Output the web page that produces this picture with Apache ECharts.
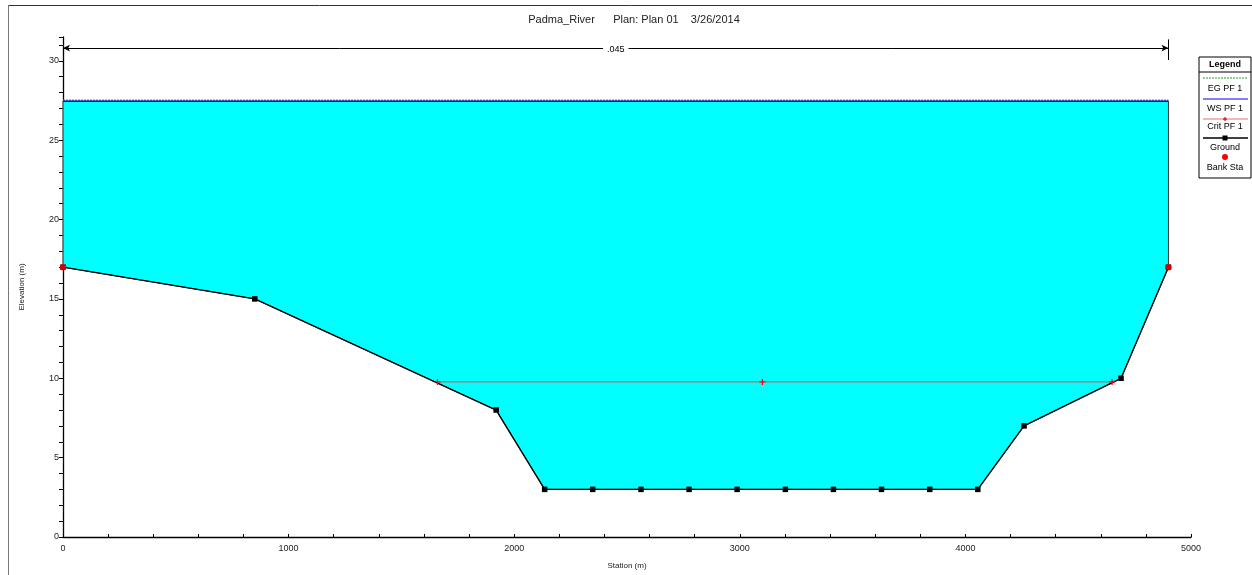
<!DOCTYPE html>
<html><head><meta charset="utf-8">
<script src="https://cdn.jsdelivr.net/npm/echarts@6/dist/echarts.min.js"></script>
<style>html,body{margin:0;padding:0;background:#fff}#c{width:1252px;height:575px}</style>
</head><body><div id="c"></div>
<script>
const groundSta = [0, 850, 1920, 2135, 2348, 2562, 2775, 2988, 3202, 3415, 3628, 3842, 4055, 4260, 4690, 4900];
const groundElev = [17, 15, 8, 3, 3, 3, 3, 3, 3, 3, 3, 3, 3, 7, 10, 17];
const bankSta = [0, 4900];
const bankElev = [17, 17];
const wsElev = 27.45;
const egElev = 27.52;
const critSta = [1660, 3100, 4650];
const critElev = [9.77, 9.77, 9.77];
const manningN = '.045';
const manningSta = [0, 4900];
const manningElev = 30.8;
const xTicks = [0, 1000, 2000, 3000, 4000, 5000];
const yTicks = [0, 5, 10, 15, 20, 25, 30];

const FONT = 'Liberation Sans, Arial, sans-serif';
const chart = echarts.init(document.getElementById('c'), null, {renderer: 'canvas'});

const groundPts = groundSta.map((s, i) => [s, groundElev[i]]);
const waterPoly = [[groundSta[0], wsElev]].concat(groundPts, [[groundSta[groundSta.length - 1], wsElev]]);
const wsLine = [[groundSta[0], wsElev], [groundSta[groundSta.length - 1], wsElev]];
const egLine = [[groundSta[0], egElev], [groundSta[groundSta.length - 1], egElev]];
const plusPath = 'path://M0,4L10,4L10,6L0,6Z M4,0L6,0L6,10L4,10Z';

// legend graphic
const LX = 1199, LY = 57, LW = 52, LH = 121;
const lx1 = LX + 4, lx2 = LX + LW - 3, lcx = LX + LW / 2;
const legendEls = [
  {type: 'rect', shape: {x: LX, y: LY, width: LW, height: LH}, style: {fill: '#fff', stroke: '#000', lineWidth: 1}},
  {type: 'text', x: lcx, y: 65, style: {text: 'Legend', font: 'bold 9px ' + FONT, fill: '#000', align: 'center', verticalAlign: 'middle'}},
  {type: 'line', shape: {x1: LX, y1: 72, x2: LX + LW, y2: 72}, style: {stroke: '#000', lineWidth: 1}},
  {type: 'line', shape: {x1: lx1, y1: 78, x2: lx2, y2: 78}, style: {stroke: '#2a9a2a', lineWidth: 1, lineDash: [2, 1]}},
  {type: 'text', x: lcx, y: 89, style: {text: 'EG PF 1', font: '9px ' + FONT, fill: '#000', align: 'center', verticalAlign: 'middle'}},
  {type: 'line', shape: {x1: lx1, y1: 99, x2: lx2, y2: 99}, style: {stroke: '#0000ff', lineWidth: 1}},
  {type: 'text', x: lcx, y: 109, style: {text: 'WS PF 1', font: '9px ' + FONT, fill: '#000', align: 'center', verticalAlign: 'middle'}},
  {type: 'line', shape: {x1: lx1, y1: 119, x2: lx2, y2: 119}, style: {stroke: '#e07070', lineWidth: 1}},
  {type: 'rect', shape: {x: lcx - 2, y: 118.5, width: 4, height: 1.2}, style: {fill: '#ff0000'}},
  {type: 'rect', shape: {x: lcx - 0.6, y: 117, width: 1.2, height: 4}, style: {fill: '#ff0000'}},
  {type: 'text', x: lcx, y: 127, style: {text: 'Crit PF 1', font: '9px ' + FONT, fill: '#000', align: 'center', verticalAlign: 'middle'}},
  {type: 'line', shape: {x1: lx1, y1: 138, x2: lx2, y2: 138}, style: {stroke: '#000', lineWidth: 1.3}},
  {type: 'rect', shape: {x: lcx - 2.5, y: 135.5, width: 5, height: 5}, style: {fill: '#000'}},
  {type: 'text', x: lcx, y: 148, style: {text: 'Ground', font: '9px ' + FONT, fill: '#000', align: 'center', verticalAlign: 'middle'}},
  {type: 'circle', shape: {cx: lcx, cy: 157, r: 3}, style: {fill: '#ff0000'}},
  {type: 'text', x: lcx, y: 168, style: {text: 'Bank Sta', font: '9px ' + FONT, fill: '#000', align: 'center', verticalAlign: 'middle'}}
];

const option = {
  backgroundColor: '#fff',
  animation: false,
  title: {
    text: 'Padma_River      Plan: Plan 01    3/26/2014',
    left: 629, top: 9, textAlign: 'center',
    textStyle: {fontFamily: FONT, fontSize: 11, fontWeight: 'normal', color: '#222'}
  },
  grid: {left: 63, right: 61, top: 37, bottom: 35, containLabel: false},
  xAxis: {
    type: 'value', min: 0, max: 5000, interval: 1000,
    name: 'Station (m)', nameLocation: 'middle', nameGap: 25,
    nameTextStyle: {fontFamily: FONT, fontSize: 8, color: '#222'},
    axisLine: {show: true, onZero: false, lineStyle: {color: '#000', width: 1.3}},
    axisTick: {show: true, inside: true, length: 3, lineStyle: {color: '#000'}},
    minorTick: {show: true, splitNumber: 5, length: 3, lineStyle: {color: '#000'}},
    axisLabel: {fontFamily: FONT, fontSize: 9, color: '#222', margin: 7, formatter: v => String(v)},
    splitLine: {show: false}
  },
  yAxis: {
    type: 'value', min: 0, max: 31.5, interval: 5,
    name: 'Elevation (m)', nameLocation: 'middle', nameGap: 37,
    nameTextStyle: {fontFamily: FONT, fontSize: 8, color: '#222'},
    axisLine: {show: true, onZero: false, lineStyle: {color: '#000', width: 1.3}},
    axisTick: {show: true, inside: false, length: 4, lineStyle: {color: '#000'}},
    minorTick: {show: true, splitNumber: 5, length: 4, lineStyle: {color: '#000'}},
    axisLabel: {fontFamily: FONT, fontSize: 9, color: '#222', margin: 4, showMaxLabel: false, formatter: v => String(v)},
    splitLine: {show: false}
  },
  graphic: [
    {type: 'line', shape: {x1: 8.5, y1: 5.5, x2: 8.5, y2: 575}, style: {stroke: '#777', lineWidth: 1}, z: 100},
    {type: 'line', shape: {x1: 8.5, y1: 5.5, x2: 1252, y2: 5.5}, style: {stroke: '#333', lineWidth: 1}, z: 100},
    {type: 'group', children: legendEls, z: 100}
  ],
  series: [
    {
      type: 'custom', name: 'water', z: 1,
      data: [0],
      renderItem: function (params, api) {
        const pts = waterPoly.map(p => api.coord(p));
        return {type: 'polygon', shape: {points: pts}, style: {fill: '#00ffff', stroke: '#333', lineWidth: 1}};
      },
      silent: true
    },
    {
      type: 'line', name: 'EG PF 1', data: egLine, z: 3, symbol: 'none',
      lineStyle: {color: '#4f9a4f', width: 1.2, type: [2, 1]}
    },
    {
      type: 'line', name: 'WS PF 1', data: wsLine, z: 4, symbol: 'none',
      lineStyle: {color: '#0000ff', width: 1.4}
    },
    {
      type: 'line', name: 'Ground', data: groundPts, z: 5,
      symbol: 'rect', symbolSize: 5.5, showAllSymbol: true,
      itemStyle: {color: '#000'},
      lineStyle: {color: '#000', width: 1.4},
      markLine: {
        silent: true, animation: false,
        lineStyle: {color: '#000', width: 1, type: 'solid'},
        label: {show: false},
        data: [
          [
            {coord: [manningSta[0], manningElev], symbol: 'arrow', symbolSize: [5, 7],
             label: {show: true, formatter: manningN, position: 'middle', fontFamily: FONT, fontSize: 9, color: '#000', backgroundColor: '#fff', padding: [1, 4], distance: -7}},
            {coord: [manningSta[1], manningElev], symbol: 'arrow', symbolSize: [5, 7]}
          ],
          [
            {coord: [manningSta[1], 31.35], symbol: 'none'},
            {coord: [manningSta[1], 30.05], symbol: 'none'}
          ]
        ]
      }
    },
    {
      type: 'line', name: 'Crit PF 1', data: critSta.map((s, i) => [s, critElev[i]]), z: 6,
      symbol: plusPath, symbolSize: 6, showAllSymbol: true,
      itemStyle: {color: '#ff0000'},
      lineStyle: {color: '#e04848', width: 1}
    },
    {
      type: 'scatter', name: 'Bank Sta', data: bankSta.map((s, i) => [s, bankElev[i]]), z: 7,
      symbol: 'circle', symbolSize: 6.5, itemStyle: {color: '#ff0000'}
    }
  ]
};
chart.setOption(option);
</script>
</body></html>
